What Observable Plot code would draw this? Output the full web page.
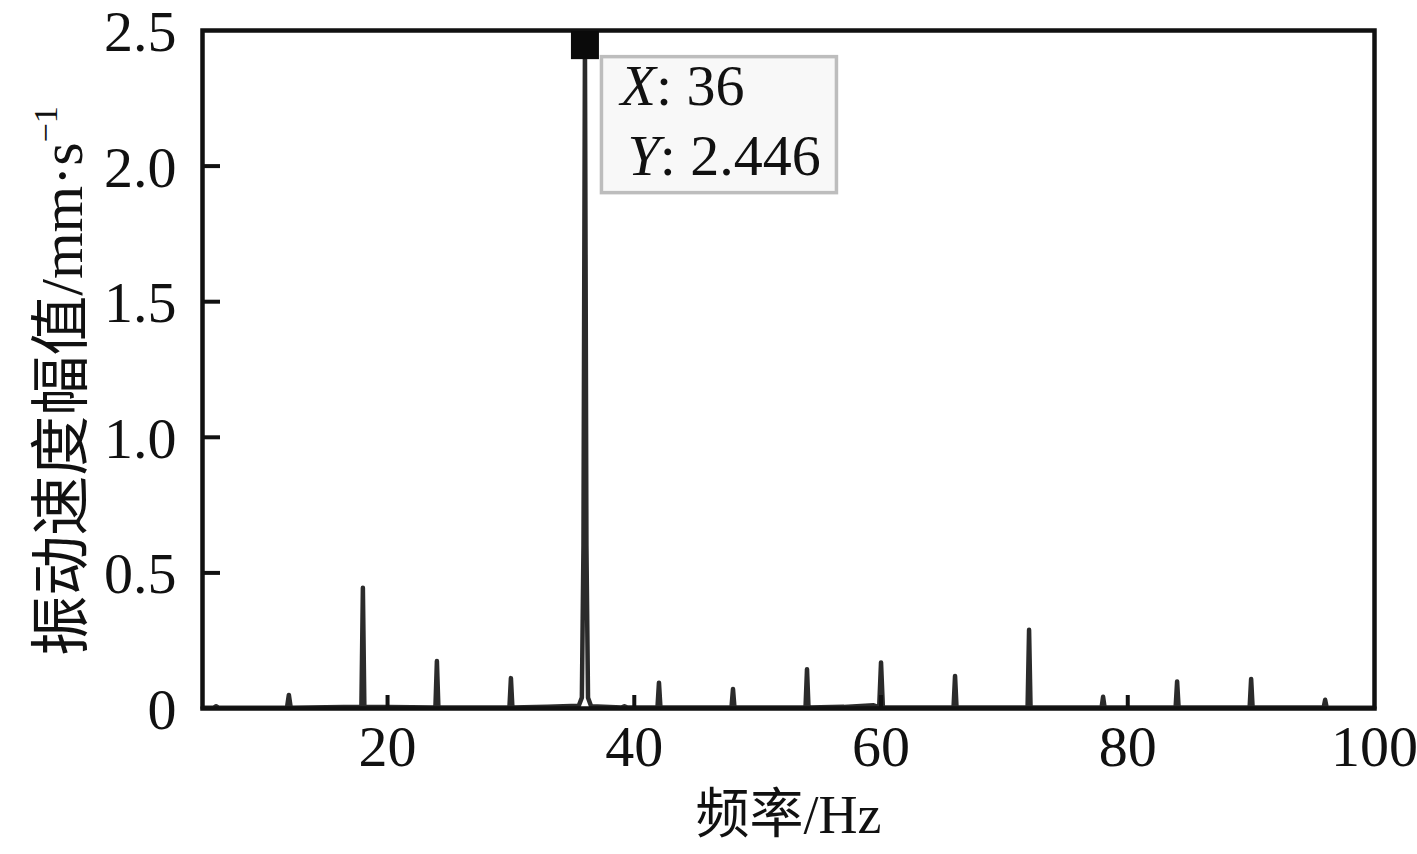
<!DOCTYPE html>
<html><head><meta charset="utf-8">
<script src="https://cdn.jsdelivr.net/npm/d3@7"></script>
<script src="https://cdn.jsdelivr.net/npm/@observablehq/plot@0.6"></script>
<style>html,body{margin:0;padding:0;background:#fff} svg{display:block}</style>
</head><body><div id="chart"></div>
<script>
// Spectrum vertices (frequency in Hz, amplitude in mm/s)
const freq = [5, 5.9, 6.1, 6.3, 11.85, 12.0, 12.15, 17.88, 18.0, 18.12, 23.88, 24.0, 24.12,
  29.88, 30.0, 30.12, 33.0, 35.5, 35.75, 35.88, 36.0, 36.12, 36.25, 36.5, 39.0, 39.2, 39.4,
  41.88, 42.0, 42.12, 47.88, 48.0, 48.12, 53.88, 54.0, 54.12, 57.0, 59.4, 59.85, 60.0, 60.15,
  65.88, 66.0, 66.12, 71.88, 72.0, 72.12, 77.88, 78.0, 78.12, 83.88, 84.0, 84.12, 89.88, 90.0, 90.12,
  95.88, 96.0, 96.12, 100];
const amp = [0.003, 0.003, 0.008, 0.003, 0.003, 0.05, 0.003, 0.006, 0.445, 0.006, 0.004, 0.175, 0.004,
  0.004, 0.112, 0.004, 0.006, 0.01, 0.04, 0.6, 2.446, 0.6, 0.04, 0.008, 0.004, 0.008, 0.004,
  0.004, 0.095, 0.004, 0.004, 0.072, 0.004, 0.004, 0.145, 0.004, 0.006, 0.012, 0.004, 0.17, 0.004,
  0.004, 0.12, 0.004, 0.004, 0.29, 0.004, 0.004, 0.043, 0.004, 0.004, 0.1, 0.004, 0.004, 0.109, 0.004,
  0.004, 0.032, 0.004, 0.003];
const xTicks = [20, 40, 60, 80, 100];
const yTicks = [0, 0.5, 1.0, 1.5, 2.0, 2.5];
const markerX = 36;
const markerY = 2.446;
const xLabel = "频率/Hz";
const yLabelMain = "振动速度幅值/mm·s";
const yLabelSup = "−1";

const spectrum = freq.map((f, i) => ({f, a: amp[i]}));
const serif = "'Liberation Serif','Times New Roman',serif";
const mixed = "'Liberation Serif','Noto Sans CJK SC',serif";
const W = 1417, H = 854, mL = 202, mR = 43, mT = 30, mB = 146;
const innerW = W - mL - mR, innerH = H - mT - mB;

function tooltipMark(index, scales, values, dims) {
  const cx = scales.x(markerX), cy = scales.y(markerY);
  const g = d3.create("svg:g").attr("text-anchor", "start");
  const bx = cx + 17, by = cy + 12;
  g.append("rect").attr("x", bx).attr("y", by).attr("width", 235).attr("height", 136)
    .attr("fill", "#f8f8f8").attr("stroke", "#bdbdbd").attr("stroke-width", 3.5);
  const t1 = g.append("text").attr("x", bx + 19).attr("y", by + 48.5).attr("text-anchor", "start")
    .attr("font-family", serif).attr("font-size", 58).attr("fill", "#111");
  t1.append("tspan").attr("font-style", "italic").text("X");
  t1.append("tspan").text(": " + markerX);
  const t2 = g.append("text").attr("x", bx + 26).attr("y", by + 118.5).attr("text-anchor", "start")
    .attr("font-family", serif).attr("font-size", 58).attr("fill", "#111");
  t2.append("tspan").attr("font-style", "italic").text("Y");
  t2.append("tspan").text(": " + markerY);
  return g.node();
}

function yLabelMark(index, scales, values, dims) {
  const g = d3.create("svg:g");
  const t = g.append("text")
    .attr("transform", `translate(60,${(dims.marginTop + dims.height - dims.marginBottom) / 2 + 12}) rotate(-90)`)
    .attr("text-anchor", "middle").attr("dy", "0.36em")
    .attr("font-family", mixed).attr("font-size", 60).attr("fill", "#111");
  t.append("tspan").text(yLabelMain);
  t.append("tspan").attr("font-size", 34).attr("dy", -25).text(yLabelSup);
  return g.node();
}

const plot = Plot.plot({
  width: W, height: H,
  marginLeft: mL, marginRight: mR, marginTop: mT, marginBottom: mB,
  style: {fontFamily: serif, background: "#fff", color: "#111"},
  x: {domain: [5, 100]},
  y: {domain: [0, 2.5]},
  marks: [
    Plot.line(spectrum, {x: "f", y: "a", stroke: "#2b2b2b", strokeWidth: 4.5, strokeLinejoin: "round", strokeLinecap: "round"}),
    Plot.tickX(xTicks.filter(d => d < 100), {x: d => d, stroke: "#111", strokeWidth: 4, insetTop: innerH - 13}),
    Plot.tickY(yTicks.filter(d => d > 0 && d < 2.5), {y: d => d, stroke: "#111", strokeWidth: 4, insetRight: innerW - 18}),
    Plot.frame({stroke: "#111", strokeWidth: 4.5}),
    Plot.axisX(xTicks, {tickSize: 0, tickPadding: 16, fontSize: 58, label: null, fill: "#111"}),
    Plot.axisY(yTicks, {tickSize: 0, tickPadding: 26, fontSize: 58, label: null, fill: "#111", dy: 2,
      tickFormat: d => d === 0 ? "0" : d.toFixed(1)}),
    Plot.dot([{f: markerX, a: markerY}], {x: "f", y: "a", symbol: "square", r: 15.8, fill: "#0a0a0a", stroke: null}),
    tooltipMark,
    Plot.text([xLabel], {frameAnchor: "bottom", dy: 107, fontSize: 54, fontFamily: mixed, fill: "#111", lineAnchor: "middle"}),
    yLabelMark
  ]
});
document.getElementById("chart").appendChild(plot);
</script>
</body></html>
